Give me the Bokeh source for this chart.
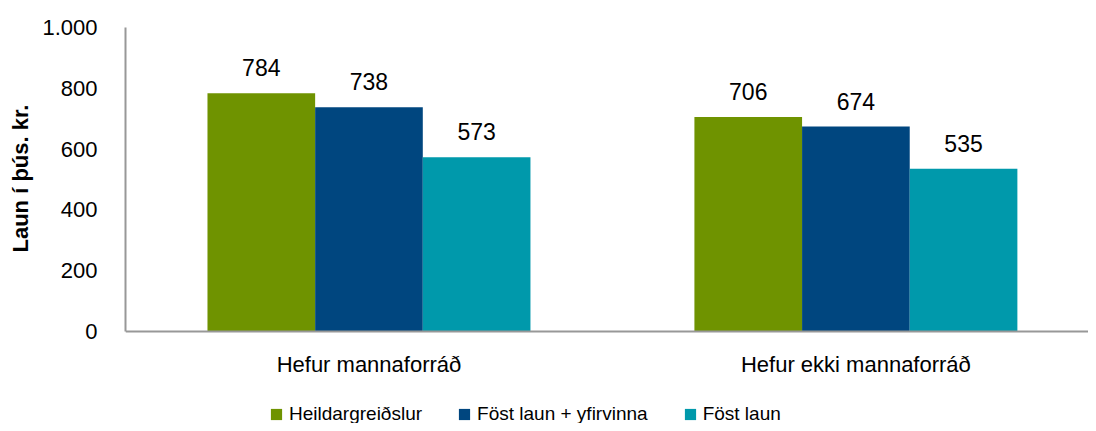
from bokeh.plotting import figure
from bokeh.models import ColumnDataSource, Range1d, FixedTicker, LabelSet, Legend, LegendItem, Title
from bokeh.core.properties import value
from bokeh.embed import file_html
from bokeh.resources import INLINE

categories = ["Hefur mannaforráð", "Hefur ekki mannaforráð"]
series_names = ["Heildargreiðslur", "Föst laun + yfirvinna", "Föst laun"]
heildargreidslur = [784, 706]
fost_yfirvinna = [738, 674]
fost_laun = [573, 535]
series_values = [heildargreidslur, fost_yfirvinna, fost_laun]
colors = ["#6F9300", "#00467F", "#0099AB"]
y_ticks = [0, 200, 400, 600, 800, 1000]
y_tick_labels = ["0", "200", "400", "600", "800", "1.000"]
y_title = "Laun í þús. kr."

FONT = "Liberation Sans"

TOP = 27
H = 423
frame_h = H - TOP
y_start = -1000 * (frame_h - 304) / 304

p = figure(width=1088, height=H, output_backend="svg", toolbar_location=None,
           x_range=Range1d(0, 975 / 493), y_range=Range1d(y_start, 1000),
           min_border_left=113, min_border_top=TOP, min_border_right=0, min_border_bottom=0)
p.outline_line_color = None
p.xgrid.visible = False
p.ygrid.visible = False

bar_w = 109 / 493
offsets = [-bar_w, 0, bar_w]
renderers = []
for name, vals, col, off in zip(series_names, series_values, colors, offsets):
    src = ColumnDataSource(dict(x=[i + 0.5 + off for i in range(len(categories))],
                                top=vals, lbl=[str(v) for v in vals]))
    r = p.vbar(x="x", top="top", width=bar_w, source=src, fill_color=col, line_color=None)
    renderers.append((name, r))
    p.add_layout(LabelSet(x="x", y="top", text="lbl", source=src, text_align="center",
                          text_baseline="alphabetic", y_offset=17, text_font=value(FONT),
                          text_font_size="23px", text_color="#000000"))

# y axis
ya = p.yaxis[0]
ya.bounds = (0, 1000)
ya.ticker = FixedTicker(ticks=y_ticks)
ya.major_label_overrides = {t: l for t, l in zip(y_ticks, y_tick_labels)}
ya.major_tick_line_color = None
ya.minor_tick_line_color = None
ya.axis_line_color = "#989898"
ya.axis_line_width = 2
ya.major_label_text_font = FONT
ya.major_label_text_font_size = "22px"
ya.major_label_text_color = "#000000"
ya.major_label_standoff = 22

# y axis title, placed along the 0..1000 part of the axis
p.add_layout(Title(text=y_title, align="left", offset=171, vertical_align="middle",
                   standoff=12, text_font=FONT, text_font_size="22px",
                   text_font_style="bold", text_color="#000000"), "left")

# x axis, drawn at y = 0
xa = p.xaxis[0]
xa.fixed_location = 0
xa.ticker = FixedTicker(ticks=[i + 0.5 for i in range(len(categories))])
xa.major_label_overrides = {i + 0.5: c for i, c in enumerate(categories)}
xa.major_tick_line_color = None
xa.minor_tick_line_color = None
xa.axis_line_color = "#989898"
xa.axis_line_width = 2
xa.major_label_text_font = FONT
xa.major_label_text_font_size = "22px"
xa.major_label_text_color = "#000000"
xa.major_label_standoff = 14

legend = Legend(items=[LegendItem(label=n, renderers=[r]) for n, r in renderers],
                orientation="horizontal", location=(144, -2), border_line_color=None,
                background_fill_alpha=0, padding=0, margin=0, spacing=35,
                glyph_width=14, glyph_height=14, label_standoff=6,
                label_text_font=FONT, label_text_font_size="19px", label_text_color="#000000")
p.add_layout(legend, "center")

open("out.html", "w").write(file_html(p, INLINE))
